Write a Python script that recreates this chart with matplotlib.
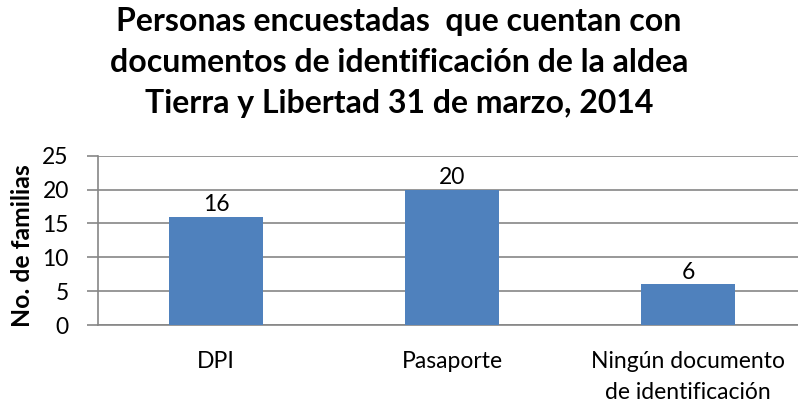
import matplotlib
matplotlib.use("Agg")
import matplotlib.pyplot as plt

categories = ["DPI", "Pasaporte", "Ningún documento\nde identificación"]
values = [16, 20, 6]
yticks = [0, 5, 10, 15, 20, 25]

title = "Personas encuestadas  que cuentan con\ndocumentos de identificación de la aldea\nTierra y Libertad 31 de marzo, 2014"

plt.rcParams['font.family'] = ['Lato', 'DejaVu Sans']

fig = plt.figure(figsize=(7.98, 4.04), dpi=100)
W, H = 798, 404
ax = fig.add_axes([98 / W, (H - 325) / H, 708 / W, (325 - 155.7) / H])

x = list(range(len(categories)))
ax.bar(x, values, width=0.4, color="#4F81BD", zorder=3)
ax.set_xlim(-0.5, 2.5)
ax.set_ylim(0, 25)
ax.set_yticks(yticks)
ax.set_yticklabels([str(t) for t in yticks], fontsize=16.5)
ax.set_xticks(x)
ax.set_xticklabels(categories, fontsize=16.5)
ax.tick_params(axis='x', length=0, pad=19)
ax.tick_params(axis='y', length=8, color="#868686", width=1.2, pad=13)
for lbl in ax.get_xticklabels():
    lbl.set_linespacing(1.55)
ax.yaxis.grid(True, color="#868686", linewidth=1.2, zorder=0)
for s in ["top", "right"]:
    ax.spines[s].set_visible(False)
ax.spines["left"].set_color("#868686")
ax.spines["bottom"].set_color("#868686")
ax.spines["left"].set_linewidth(1.2)
ax.spines["bottom"].set_linewidth(1.2)

for xi, v in zip(x, values):
    ax.text(xi, v + 0.2, str(v), ha="center", va="bottom", fontsize=16.5, color="black")

ax.set_ylabel("No. de familias", fontsize=17.8, fontweight="bold", va="center")
ax.yaxis.set_label_coords((23 - 98) / 708, 0.47)

fig.text(0.5, (H - 62) / H, title, ha="center", va="center",
         fontsize=23, fontweight="bold", linespacing=1.5)

fig.savefig("out.png", dpi=100)
